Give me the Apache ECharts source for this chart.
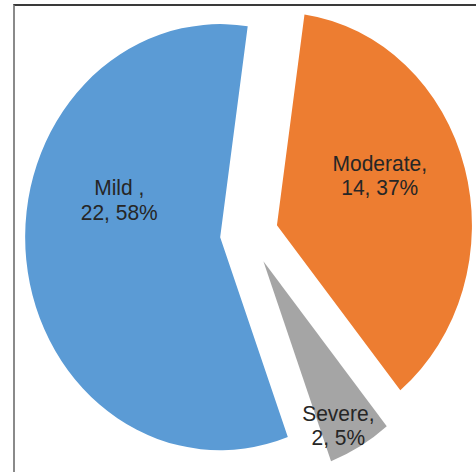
<!DOCTYPE html>
<html>
<head>
<meta charset="utf-8">
<script src="https://cdn.jsdelivr.net/npm/echarts@6/dist/echarts.min.js"></script>
<style>
  html, body { margin: 0; padding: 0; background: #fff; overflow: hidden; }
  #wrap { position: relative; width: 476px; height: 472px; overflow: hidden; }
  #frame { position: absolute; left: 13px; top: 4px; width: 500px; height: 500px;
           border-top: 2px solid #3a3a3a; border-left: 2px solid #8a8a8a; box-sizing: border-box; }
  #chart { position: absolute; left: 0; top: 0; width: 476px; height: 432px;
           transform: scaleY(1.0926); transform-origin: 0 0; }
</style>
</head>
<body>
<div id="wrap">
  <div id="frame"></div>
  <div id="chart"></div>
</div>
<script>
// Data
const categories = ['Mild ', 'Moderate', 'Severe'];
const counts = [22, 14, 2];
const percents = ['58%', '37%', '5%'];
const colors = ['#5B9BD5', '#ED7D31', '#A5A5A5'];

const chart = echarts.init(document.getElementById('chart'), null, { renderer: 'svg' });

const labelShift = [[-1, -45], [6, -19], [25, 63]];

const option = {
  animation: false,
  series: [{
    type: 'pie',
    center: [249, 214],
    radius: [0, 195],
    startAngle: 290.3,
    clockwise: true,
    selectedMode: 'multiple',
    selectedOffset: 29,
    avoidLabelOverlap: false,
    silent: true,
    emphasis: { disabled: true },
    label: {
      show: true,
      position: 'inner',
      formatter: function (p) {
        return categories[p.dataIndex] + ',\n' + counts[p.dataIndex] + ', ' + percents[p.dataIndex];
      },
      fontFamily: '"Liberation Sans", Arial, sans-serif',
      fontSize: 21,
      lineHeight: 22,
      color: '#262626',
      align: 'center'
    },
    labelLine: { show: false },
    labelLayout: function (params) {
      const s = labelShift[params.dataIndex];
      return { dx: s[0], dy: s[1] };
    },
    itemStyle: { borderWidth: 0 },
    data: categories.map(function (c, i) {
      return { name: c, value: counts[i], selected: true, itemStyle: { color: colors[i] } };
    })
  }]
};
chart.setOption(option);
</script>
</body>
</html>
